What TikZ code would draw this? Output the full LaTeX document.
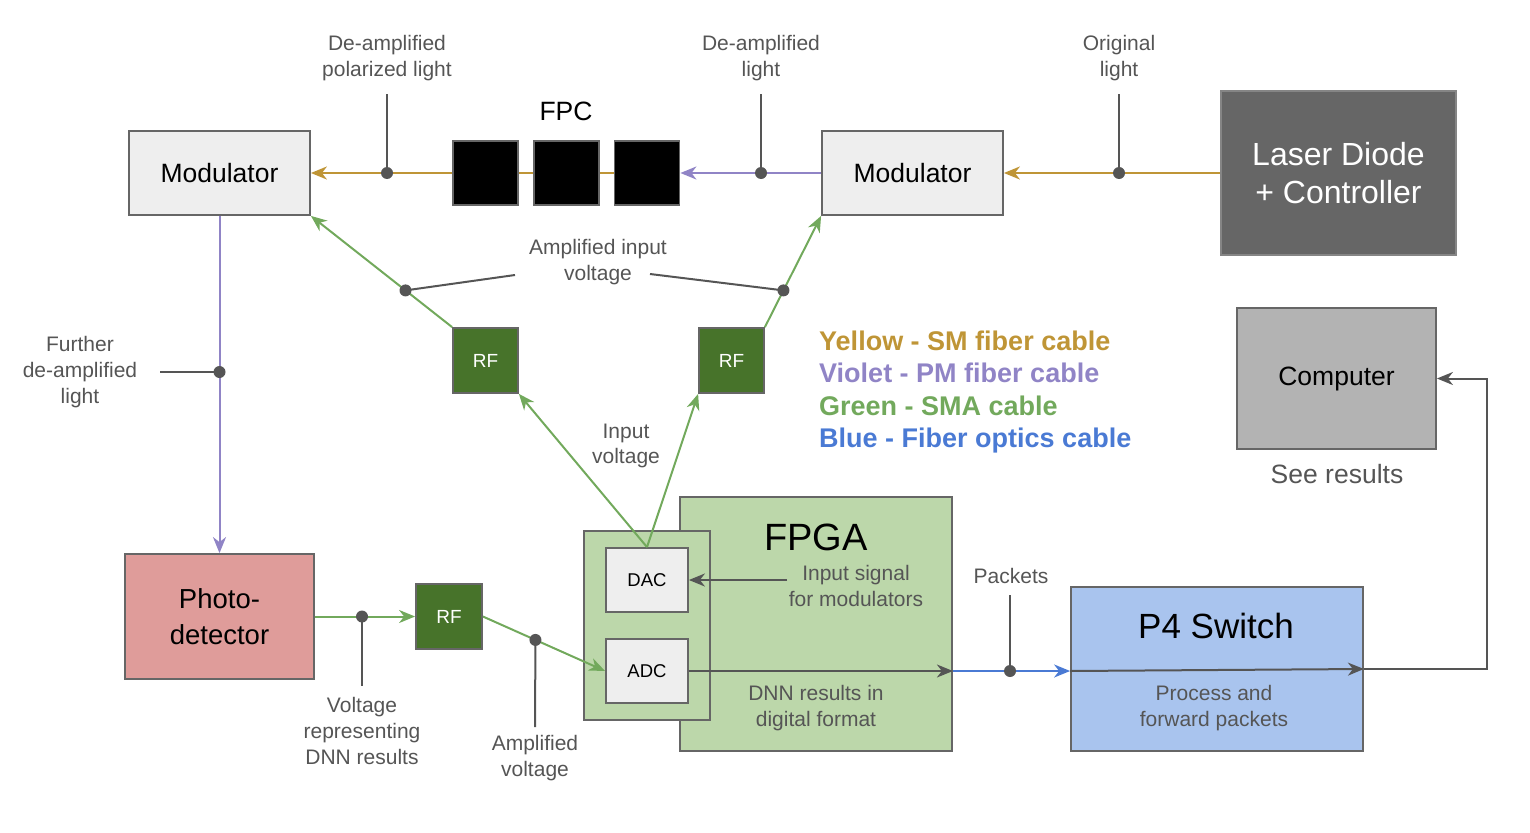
\documentclass[tikz,border=0pt]{standalone}
\usepackage{fontspec}
\setmainfont{Liberation Sans}
\usetikzlibrary{arrows.meta,calc}
\definecolor{bordc}{HTML}{666666}
\definecolor{modfill}{HTML}{EEEEEE}
\definecolor{laserfill}{HTML}{666666}
\definecolor{compfill}{HTML}{B3B3B3}
\definecolor{rffill}{HTML}{47732A}
\definecolor{pdfill}{HTML}{DF9C9A}
\definecolor{fpgafill}{HTML}{BCD7AA}
\definecolor{pfourfill}{HTML}{A9C4EE}
\definecolor{ylwc}{HTML}{BF9536}
\definecolor{vioc}{HTML}{9084C6}
\definecolor{grnc}{HTML}{72A95C}
\definecolor{bluc}{HTML}{4A7AD4}
\definecolor{txtc}{HTML}{555555}
\newcommand\myfs[2]{\fontsize{#1}{#2}\selectfont}
\begin{document}
\begin{tikzpicture}[x=1pt,y=-1pt,
  box/.style={draw=bordc, line width=1.8pt, inner sep=0pt, align=center},
  arr/.style={-{Stealth[length=16pt,width=13pt,inset=5pt]}},
  ylw/.style={draw=ylwc, line width=2pt},
  vio/.style={draw=vioc, line width=2pt},
  grn/.style={draw=grnc, line width=2pt},
  blu/.style={draw=bluc, line width=2pt},
  gry/.style={draw=txtc, line width=2pt},
  lead/.style={draw=txtc, line width=2pt},
  lbl/.style={text=txtc, align=center, inner sep=0pt, font=\myfs{21}{25.7}},
  legend/.style={anchor=west, inner sep=0pt, text depth=0pt, font=\myfs{27}{32}\bfseries},
  dotc/.style={fill=txtc}
]
\useasboundingbox (0,0) rectangle (1530,832);

% ---- boxes
\node[box, fill=modfill, minimum width=181pt, minimum height=84pt, font=\myfs{26.5}{32}] (modL) at (219.5,173) {Modulator};
\node[box, fill=modfill, minimum width=181pt, minimum height=84pt, font=\myfs{26.5}{32}] (modR) at (912.5,173) {Modulator};
\node[box, fill=laserfill, draw=bordc!80, minimum width=235pt, minimum height=164pt, text=white, font=\myfs{32}{38}] (laser) at (1338.5,173) {Laser Diode\\+ Controller};
\node[box, fill=compfill, minimum width=199pt, minimum height=141pt, font=\myfs{26.5}{32}] (comp) at (1336.5,378.5) {Computer};
\node[lbl, font=\myfs{26.5}{32}] (seeres) at (1337,474) {See results};

\node[box, fill=black, minimum width=65pt, minimum height=64pt] (fpcA) at (485.5,173) {};
\node[box, fill=black, minimum width=65pt, minimum height=64pt] (fpcB) at (566.5,173) {};
\node[box, fill=black, minimum width=65pt, minimum height=64pt] (fpcC) at (647,173) {};
\node[inner sep=0pt, font=\myfs{26.5}{32}] (fpclbl) at (566,111) {FPC};

\node[box, fill=rffill, minimum width=65pt, minimum height=65pt, text=white, font=\myfs{19}{23}] (rfL) at (485.5,360.5) {RF};
\node[box, fill=rffill, minimum width=65pt, minimum height=65pt, text=white, font=\myfs{19}{23}] (rfR) at (731.5,360.5) {RF};
\node[box, fill=rffill, minimum width=66pt, minimum height=65pt, text=white, font=\myfs{19}{23}] (rfB) at (449,616.5) {RF};

\node[box, fill=pdfill, minimum width=189pt, minimum height=125pt, font=\myfs{27.5}{36}] (pd) at (219.5,616.5) {Photo-\\detector};

\node[box, fill=fpgafill, minimum width=272pt, minimum height=254pt] (fpga) at (816,624) {};
\node[box, fill=fpgafill, minimum width=126pt, minimum height=189pt] (inner) at (647,625.5) {};
\node[inner sep=0pt, font=\myfs{38}{44}] (fpgalbl) at (816,537) {FPGA};
\node[box, fill=modfill, minimum width=82pt, minimum height=64pt, font=\myfs{18.5}{22}] (dac) at (647,580) {DAC};
\node[box, fill=modfill, minimum width=82pt, minimum height=64pt, font=\myfs{18.5}{22}] (adc) at (647,671) {ADC};

\node[box, fill=pfourfill, minimum width=292pt, minimum height=164pt] (pfour) at (1217,669) {};
\node[inner sep=0pt, font=\myfs{35}{42}] (pfourlbl) at (1216,626) {P4 Switch};

% ---- legend
\node[legend, text=ylwc] (lgA) at (819,341) {Yellow - SM fiber cable};
\node[legend, text=vioc] (lgB) at (819,373) {Violet - PM fiber cable};
\node[legend, text=grnc] (lgC) at (819,406) {Green - SMA cable};
\node[legend, text=bluc] (lgD) at (819,438) {Blue - Fiber optics cable};

% ---- labels
\node[lbl] (lorig) at (1119,58) {Original\\light};
\node[lbl] (ldeamp) at (761,58) {De-amplified\\light};
\node[lbl] (lpol) at (387,58) {De-amplified\\polarized light};
\node[lbl] (lamp) at (598,262) {Amplified input\\voltage};
\node[lbl] (lfur) at (80,372) {Further\\de-amplified\\light};
\node[lbl] (linv) at (626,446) {Input\\voltage};
\node[lbl] (lvolt) at (362,731) {Voltage\\representing\\DNN results};
\node[lbl] (lampv) at (535,758) {Amplified\\voltage};
\node[lbl] (lsig) at (856,586) {Input signal\\for modulators};
\node[lbl] (ldnn) at (816,708) {DNN results in\\digital format};
\node[lbl] (lpack) at (1011,576) {Packets};
\node[lbl] (lproc) at (1214,708) {Process and\\forward packets};

% ---- coordinates
\coordinate (dOrig) at (1119,173);
\coordinate (eOrig) at (1119,94);
\coordinate (dDeamp) at (761,173);
\coordinate (eDeamp) at (761,94);
\coordinate (dPol) at (387,173);
\coordinate (ePol) at (387,94);
\coordinate (dFur) at (219.5,372);
\coordinate (eFur) at (160,372);
\coordinate (dAmpL) at ($(rfL.north west)!0.33!(modL.south east)$);
\coordinate (dAmpR) at ($(rfR.north east)!0.33!(modR.south west)$);
\coordinate (eAmpL) at (515,275);
\coordinate (eAmpR) at (650,274);
\coordinate (dVolt) at (362,616.5);
\coordinate (eVolt) at (362,686);
\coordinate (dAmpV) at ($(rfB.east)!0.43!(adc.west)$);
\coordinate (eAmpV) at (535,727);
\coordinate (eSig) at (787,580);
\coordinate (fpgaR) at (fpga.east |- adc.east);
\coordinate (pIn) at (pfour.west |- adc.east);
\coordinate (dPack) at (1010,671);
\coordinate (ePack) at (1010,595);
\coordinate (turn) at (1487,669);

% ---- optical connectors
\draw[ylw, arr] (laser.west) -- (modR.east);
\draw[vio, arr] (modR.west) -- (fpcC.east);
\draw[ylw] (fpcC.west) -- (fpcB.east);
\draw[ylw] (fpcB.west) -- (fpcA.east);
\draw[ylw, arr] (fpcA.west) -- (modL.east);
\draw[vio, arr] (modL.south) -- (pd.north);

% ---- electrical connectors
\draw[grn, arr] (rfL.north west) -- (modL.south east);
\draw[grn, arr] (rfR.north east) -- (modR.south west);
\draw[grn, arr] (dac.north) -- (rfL.south east);
\draw[grn, arr] (dac.north) -- (rfR.south west);
\draw[grn, arr] (pd.east) -- (rfB.west);
\draw[grn, arr] (rfB.east) -- (adc.west);
\draw[gry, arr] (eSig) -- (dac.east);
\draw[gry, arr] (adc.east) -- (fpgaR);
\draw[blu, arr] (fpgaR) -- (pIn);
\draw[gry, arr] (pIn) -- (pfour.east);
\draw[gry, arr] (pfour.east) -- (turn) |- (comp.east);

% ---- leaders
\draw[lead] (dOrig) -- (eOrig);
\draw[lead] (dDeamp) -- (eDeamp);
\draw[lead] (dPol) -- (ePol);
\draw[lead] (dFur) -- (eFur);
\draw[lead] (dAmpL) -- (eAmpL);
\draw[lead] (eAmpR) -- (dAmpR);
\draw[lead] (dVolt) -- (eVolt);
\draw[lead] (dAmpV) -- (eAmpV);
\draw[lead] (dPack) -- (ePack);

% ---- dots
\foreach \d in {dOrig,dDeamp,dPol,dFur,dAmpL,dAmpR,dVolt,dAmpV,dPack}
  \fill[dotc] (\d) circle (6pt);
\end{tikzpicture}
\end{document}
